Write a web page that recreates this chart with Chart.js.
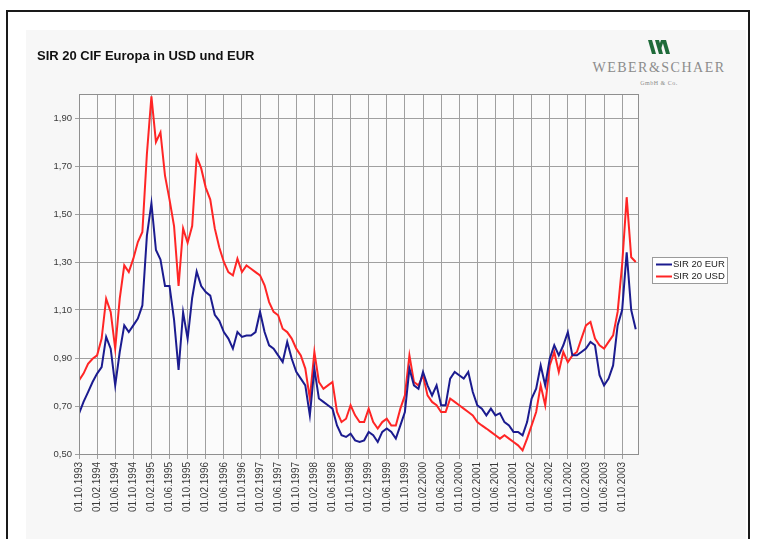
<!DOCTYPE html>
<html>
<head>
<meta charset="utf-8">
<script src="https://cdn.jsdelivr.net/npm/chart.js@4/dist/chart.umd.min.js"></script>
<style>
  html,body{margin:0;padding:0;background:#fff;width:757px;height:539px;overflow:hidden;}
  #frame{position:absolute;left:6px;top:10px;width:744px;height:540px;border:2px solid #1a1a1a;box-sizing:border-box;}
  #panel{position:absolute;left:26px;top:30px;width:720px;height:509px;background:#f7f7f7;}
  #c{position:absolute;left:0;top:0;}
  #logo{position:absolute;left:584px;top:40px;width:150px;text-align:center;font-family:"Liberation Serif","DejaVu Serif",serif;color:#8c8c8c;}
  #logo .name{font-size:14px;letter-spacing:1.5px;margin-top:2px;}
  #logo .sub{font-size:6px;margin-top:4px;letter-spacing:0.5px;}
</style>
</head>
<body>
<div id="frame"></div>
<div id="panel"></div>
<div id="logo">
  <svg width="24" height="14" viewBox="0 0 24 14"><polygon points="1,0 5,0 9,14 5,14" fill="#1f6b3a"/><polygon points="8,0 12,0 16,14 12,14" fill="#1f6b3a"/><polygon points="15,0 19,0 23,14 19,14" fill="#1f6b3a"/><polygon points="12,6 14,0 17,0 14,9" fill="#1f6b3a"/></svg>
  <div class="name">WEBER&amp;SCHAER</div>
  <div class="sub">GmbH &amp; Co.</div>
</div>
<canvas id="c" width="757" height="539"></canvas>
<script>
// Months since 01.10.1993 (one value per month)
const months = Array.from({length:124}, (_, i) => i);

const eurValues = [
  0.668, 0.717, 0.758, 0.800, 0.835, 0.862, 0.988, 0.939, 0.786, 0.925,
  1.036, 1.008, 1.036, 1.064, 1.119, 1.410, 1.545, 1.350, 1.310, 1.200,
  1.200, 1.060, 0.850, 1.090, 0.980, 1.150, 1.260, 1.200, 1.175, 1.160,
  1.080, 1.055, 1.008, 0.981, 0.939, 1.008, 0.988, 0.994, 0.994, 1.008,
  1.092, 1.008, 0.953, 0.939, 0.911, 0.883, 0.967, 0.897, 0.842, 0.814,
  0.786, 0.661, 0.856, 0.731, 0.717, 0.703, 0.689, 0.619, 0.578, 0.571,
  0.585, 0.557, 0.550, 0.557, 0.592, 0.578, 0.550, 0.592, 0.606, 0.592,
  0.564, 0.619, 0.675, 0.856, 0.786, 0.772, 0.842, 0.786, 0.744, 0.786,
  0.703, 0.703, 0.814, 0.842, 0.828, 0.814, 0.842, 0.758, 0.703, 0.689,
  0.661, 0.689, 0.661, 0.670, 0.633, 0.619, 0.592, 0.592, 0.578, 0.633,
  0.731, 0.772, 0.869, 0.786, 0.897, 0.953, 0.911, 0.953, 1.008, 0.911,
  0.911, 0.925, 0.939, 0.967, 0.953, 0.828, 0.786, 0.814, 0.869, 1.036,
  1.100, 1.340, 1.100, 1.020
];

const usdValues = [
  0.807, 0.835, 0.876, 0.897, 0.911, 0.981, 1.147, 1.092, 0.939, 1.147,
  1.286, 1.258, 1.314, 1.383, 1.425, 1.750, 1.990, 1.800, 1.840, 1.660,
  1.560, 1.450, 1.200, 1.440, 1.380, 1.450, 1.740, 1.690, 1.610, 1.560,
  1.440, 1.360, 1.300, 1.258, 1.244, 1.314, 1.258, 1.286, 1.272, 1.258,
  1.244, 1.203, 1.133, 1.092, 1.078, 1.022, 1.008, 0.981, 0.939, 0.911,
  0.856, 0.731, 0.925, 0.800, 0.772, 0.786, 0.800, 0.675, 0.633, 0.647,
  0.703, 0.661, 0.633, 0.633, 0.689, 0.633, 0.606, 0.633, 0.647, 0.619,
  0.619, 0.689, 0.744, 0.911, 0.800, 0.786, 0.828, 0.744, 0.717, 0.703,
  0.675, 0.675, 0.731, 0.717, 0.703, 0.689, 0.675, 0.661, 0.633, 0.619,
  0.606, 0.592, 0.578, 0.564, 0.578, 0.564, 0.550, 0.536, 0.515, 0.564,
  0.619, 0.675, 0.786, 0.703, 0.869, 0.925, 0.842, 0.925, 0.883, 0.911,
  0.925, 0.981, 1.036, 1.050, 0.981, 0.953, 0.939, 0.967, 0.994, 1.092,
  1.290, 1.570, 1.320, 1.300
];

const xTickMonths = [0,4,8,12,16,20,24,28,32,36,40,44,48,52,56,60,64,68,72,76,80,84,88,92,96,100,104,108,112,116,120];
const xTickLabels = [
  "01.10.1993","01.02.1994","01.06.1994","01.10.1994","01.02.1995","01.06.1995","01.10.1995",
  "01.02.1996","01.06.1996","01.10.1996","01.02.1997","01.06.1997","01.10.1997",
  "01.02.1998","01.06.1998","01.10.1998","01.02.1999","01.06.1999","01.10.1999",
  "01.02.2000","01.06.2000","01.10.2000","01.02.2001","01.06.2001","01.10.2001",
  "01.02.2002","01.06.2002","01.10.2002","01.02.2003","01.06.2003","01.10.2003"
];
const yTickValues = [0.5,0.7,0.9,1.1,1.3,1.5,1.7,1.9];
const yTickLabels = ["0,50","0,70","0,90","1,10","1,30","1,50","1,70","1,90"];
const seriesNames = ["SIR 20 EUR","SIR 20 USD"];
const titleText = "SIR 20 CIF Europa in USD und EUR";

const FONT = "'Liberation Sans', Arial, sans-serif";

const plotFrame = {
  id:'plotFrame',
  beforeDraw(chart){
    const {ctx, chartArea:a} = chart;
    ctx.save();
    ctx.fillStyle = '#fbfbfb';
    ctx.fillRect(a.left, a.top, a.right-a.left, a.bottom-a.top);
    ctx.restore();
  },
  afterDatasetsDraw(chart){
    const {ctx, chartArea:a} = chart;
    ctx.save();
    ctx.strokeStyle = '#8f8f8f';
    ctx.lineWidth = 1;
    ctx.strokeRect(Math.round(a.left)+0.5, Math.round(a.top)+0.5, Math.round(a.right-a.left), Math.round(a.bottom-a.top));
    ctx.restore();
  }
};

const boxLegend = {
  id:'boxLegend',
  afterDraw(chart){
    const {ctx, chartArea:a} = chart;
    const ds = chart.data.datasets;
    const w = 75, rowH = 12, h = ds.length*rowH + 2;
    const x = a.right + 14, y = (a.top + a.bottom)/2 - 4 - h/2;
    ctx.save();
    ctx.fillStyle = '#ffffff';
    ctx.fillRect(x, y, w, h);
    ctx.strokeStyle = '#9a9a9a';
    ctx.lineWidth = 1;
    ctx.strokeRect(Math.round(x)+0.5, Math.round(y)+0.5, w, h);
    ctx.font = "9.5px " + FONT;
    ctx.textBaseline = 'middle';
    ds.forEach((d, i) => {
      const cy = y + 1 + rowH*i + rowH/2 + 0.5;
      ctx.strokeStyle = d.borderColor;
      ctx.lineWidth = 2;
      ctx.beginPath(); ctx.moveTo(x+4, cy); ctx.lineTo(x+20, cy); ctx.stroke();
      ctx.fillStyle = '#222';
      ctx.fillText(d.label, x+21, cy);
    });
    ctx.restore();
  }
};

new Chart(document.getElementById('c'), {
  type:'line',
  data:{
    datasets:[
      {label:seriesNames[0], data:months.map((m,i)=>({x:m, y:eurValues[i]})), borderColor:'#1b1b8f', borderWidth:2, pointRadius:0, tension:0},
      {label:seriesNames[1], data:months.map((m,i)=>({x:m, y:usdValues[i]})), borderColor:'#ff2525', borderWidth:2, pointRadius:0, tension:0}
    ]
  },
  options:{
    responsive:false,
    animation:false,
    layout:{padding:{left:37, top:49, right:119, bottom:10}},
    plugins:{
      legend:{display:false},
      tooltip:{enabled:false},
      title:{display:true, text:titleText, align:'start', color:'#111',
        font:{family:FONT, size:13, weight:'bold', lineHeight:1.2}, padding:{top:0, bottom:29.4}}
    },
    scales:{
      x:{
        type:'linear', min:0, max:123.5,
        afterBuildTicks(s){ s.ticks = xTickMonths.map(v=>({value:v})); },
        afterFit(s){ s.height = 75; },
        ticks:{autoSkip:false, maxRotation:90, minRotation:90, color:'#3a3a3a', padding:3,
          font:{family:FONT, size:10}, callback:(v,i)=>xTickLabels[i]},
        grid:{color:'#a0a0a0', lineWidth:1, tickLength:5, drawTicks:true},
        border:{color:'#8f8f8f'}
      },
      y:{
        min:0.5, max:2.0,
        afterBuildTicks(s){ s.ticks = yTickValues.map(v=>({value:v})); },
        afterFit(s){ s.width = 42; },
        ticks:{color:'#3a3a3a', padding:3, font:{family:FONT, size:9.5}, callback:(v,i)=>yTickLabels[i]},
        grid:{color:'#a0a0a0', lineWidth:1, tickLength:4},
        border:{color:'#8f8f8f'}
      }
    }
  },
  plugins:[plotFrame, boxLegend]
});
</script>
</body>
</html>
